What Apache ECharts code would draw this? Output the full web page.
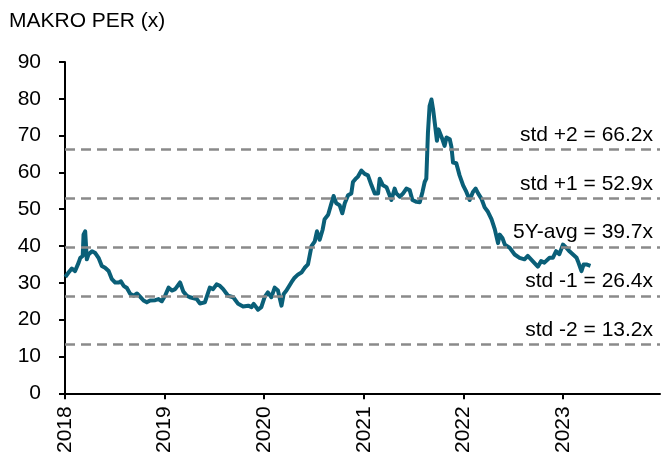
<!DOCTYPE html>
<html>
<head>
<meta charset="utf-8">
<title>MAKRO PER</title>
<script src="https://cdn.jsdelivr.net/npm/echarts@6/dist/echarts.min.js"></script>
<style>
  html, body { margin: 0; padding: 0; background: #fff; }
  #chart { width: 662px; height: 456px; }
</style>
</head>
<body>
<div id="chart"></div>
<script>
// 日期 / PER 数值
var dates = [
  '2018-01-02','2018-01-14','2018-01-26','2018-02-07','2018-02-20','2018-02-26','2018-03-07','2018-03-10','2018-03-16','2018-03-22','2018-03-28',
  '2018-04-10','2018-04-22','2018-05-04','2018-05-16','2018-05-28','2018-06-10','2018-06-22','2018-07-04','2018-07-17','2018-07-25',
  '2018-08-04','2018-08-16','2018-08-28','2018-09-10','2018-09-22','2018-10-04','2018-10-16','2018-10-28','2018-11-09','2018-11-28',
  '2018-12-10','2018-12-22',
  '2019-01-03','2019-01-16','2019-01-28','2019-02-09','2019-02-27','2019-03-11','2019-03-24','2019-04-04','2019-04-29','2019-05-11',
  '2019-05-29','2019-06-16','2019-06-28','2019-07-11','2019-07-23','2019-08-04','2019-08-22','2019-09-10','2019-09-28','2019-10-16',
  '2019-11-04','2019-11-16','2019-11-24','2019-12-10','2019-12-22',
  '2020-01-03','2020-01-15','2020-01-28','2020-02-09','2020-02-21','2020-03-05','2020-03-13','2020-03-23','2020-04-10','2020-04-22',
  '2020-05-05','2020-05-17','2020-05-29','2020-06-10','2020-06-23','2020-07-05','2020-07-13','2020-07-23','2020-08-03','2020-08-10',
  '2020-08-23','2020-09-04','2020-09-12','2020-09-22','2020-10-04','2020-10-14','2020-10-23','2020-11-04','2020-11-16','2020-11-22',
  '2020-12-02','2020-12-10','2020-12-23',
  '2021-01-04','2021-01-16','2021-01-29','2021-02-10','2021-02-22','2021-02-28','2021-03-06','2021-03-12','2021-03-25','2021-03-30',
  '2021-04-12','2021-04-24','2021-04-30','2021-05-13','2021-05-25','2021-06-06','2021-06-18','2021-06-28','2021-07-13','2021-07-25',
  '2021-08-04','2021-08-12','2021-08-18','2021-08-24','2021-08-30','2021-09-06','2021-09-12','2021-09-18','2021-09-26','2021-10-02',
  '2021-10-09','2021-10-16','2021-10-24','2021-10-31','2021-11-12','2021-11-18','2021-11-24','2021-11-30','2021-12-06','2021-12-18',
  '2021-12-31',
  '2022-01-12','2022-01-24','2022-02-05','2022-02-15','2022-02-24','2022-03-08','2022-03-20','2022-04-01','2022-04-14','2022-04-26',
  '2022-05-08','2022-05-14','2022-05-24','2022-06-02','2022-06-20','2022-07-08','2022-07-26','2022-08-13','2022-08-25','2022-09-12',
  '2022-10-01','2022-10-13','2022-10-25','2022-11-13','2022-11-25','2022-12-07','2022-12-19',
  '2023-01-01','2023-01-14','2023-01-26','2023-02-07','2023-02-20','2023-02-25','2023-03-10','2023-03-18','2023-03-28','2023-04-12'
]
var perValues = [
  31.6, 32.8, 33.9, 33.2, 35.5, 36.8, 37.3, 43.1, 44.0, 36.4, 37.7,
  38.6, 38.1, 36.8, 34.6, 34.1, 33.2, 31.0, 30.1, 30.1, 30.4,
  29.2, 28.6, 27.0, 26.5, 27.1, 26.2, 25.2, 24.7, 25.2, 25.3,
  25.6, 25.0,
  26.5, 28.7, 27.9, 28.3, 30.1, 27.6, 26.5, 26.1, 25.6, 24.4,
  24.7, 28.7, 28.3, 29.6, 29.2, 28.3, 26.5, 26.1, 24.3, 23.6,
  23.8, 23.4, 24.3, 22.7, 23.4,
  26.1, 27.4, 26.1, 28.7, 27.9, 23.8, 27.0, 27.9, 30.1, 31.4,
  32.3, 32.8, 34.1, 35.0, 40.0, 41.3, 44.0, 41.7, 44.5, 47.3,
  48.5, 51.6, 53.6, 51.6, 51.1, 48.9, 51.6, 53.8, 54.3, 57.4,
  58.3, 58.8, 60.5,
  59.6, 59.2, 56.5, 54.3, 54.3, 58.3, 58.8, 56.5, 56.0, 56.5,
  52.5, 55.6, 54.3, 53.4, 54.3, 55.6, 55.2, 52.5, 52.0, 51.9,
  54.7, 57.4, 58.3, 70.8, 78.0, 79.8, 77.1, 73.5, 68.6, 71.7,
  72.2, 69.0, 67.2, 69.5, 69.0, 67.0, 62.7, 63.2, 62.5, 59.2,
  56.5,
  54.7, 52.5, 54.7, 55.6, 54.3, 52.9, 50.5, 49.3, 47.3, 44.6,
  40.8, 43.1, 42.2, 40.4, 39.5, 37.7, 36.8, 36.4, 37.3, 35.9,
  34.4, 35.9, 35.5, 36.8, 36.8, 38.6, 37.8,
  40.4, 39.5, 38.5, 37.7, 36.8, 35.9, 33.2, 35.0, 35.0, 34.6
]
// 均值和标准差线
var bandValues = [66.2, 52.9, 39.7, 26.4, 13.2]
var bandLabels = ['std +2 = 66.2x', 'std +1 = 52.9x', '5Y-avg = 39.7x', 'std -1 = 26.4x', 'std -2 = 13.2x']

var font = 'Liberation Sans, Arial, sans-serif'
var lineData = dates.map(function (d, i) { return [d, perValues[i]] })
var markData = bandValues.map(function (v, i) {
  return { yAxis: v, label: { formatter: bandLabels[i] } }
})

var myChart = echarts.init(document.getElementById('chart'))
myChart.setOption({
  animation: false,
  title: {
    text: 'MAKRO PER (x)',
    left: 4,
    top: 6,
    textStyle: { color: '#000', fontSize: 21, fontWeight: 'normal', fontFamily: font }
  },
  grid: { left: 65, right: 2, top: 62, bottom: 59 },
  xAxis: {
    type: 'time',
    min: '2018-01-01',
    max: '2023-12-23',
    splitNumber: 6,
    minInterval: 365 * 24 * 3600 * 1000,
    axisLine: { show: true, lineStyle: { color: '#000', width: 2 } },
    axisTick: { show: true, length: 6, lineStyle: { color: '#000', width: 2 } },
    splitLine: { show: false },
    axisLabel: {
      rotate: 90,
      margin: 13,
      formatter: '{yyyy}',
      color: '#000',
      fontSize: 21,
      fontFamily: font
    }
  },
  yAxis: {
    type: 'value',
    min: 0,
    max: 90,
    interval: 10,
    axisLine: { show: true, lineStyle: { color: '#000', width: 2 } },
    axisTick: { show: true, length: 6, lineStyle: { color: '#000', width: 2 } },
    splitLine: { show: false },
    axisLabel: { color: '#000', fontSize: 21, fontFamily: font, margin: 24 }
  },
  series: [
    {
      name: 'PER',
      type: 'line',
      data: lineData,
      showSymbol: false,
      lineStyle: { color: '#0a5f78', width: 4, join: 'round' },
      markLine: {
        silent: true,
        symbol: 'none',
        lineStyle: { color: '#8a8a8a', width: 2.5, type: [10, 6] },
        label: {
          position: 'insideEndTop',
          distance: [7, 4],
          color: '#000',
          fontSize: 21,
          fontFamily: font
        },
        data: markData
      }
    }
  ]
})
</script>
</body>
</html>
